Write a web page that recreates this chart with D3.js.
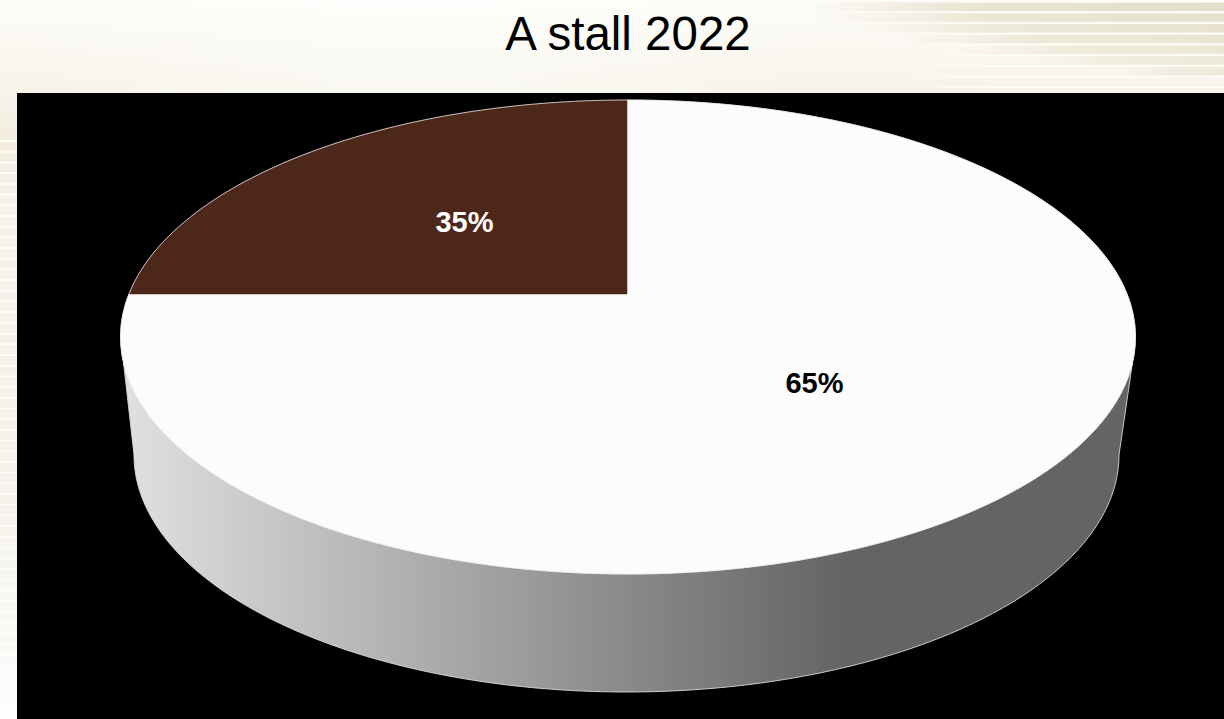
<!DOCTYPE html>
<html>
<head>
<meta charset="utf-8">
<script src="https://cdn.jsdelivr.net/npm/d3@7"></script>
<style>html,body{margin:0;padding:0;background:#fff;overflow:hidden}svg{display:block}text{font-family:"Liberation Sans",Arial,sans-serif}</style>
</head>
<body>
<svg id="c" width="1224" height="719"></svg>
<script>
const chartTitle = "A stall 2022";
const categories = ["Yes", "No"];
const shares = [35, 65];
const shareLabels = ["35%", "65%"];
const sliceColors = ["#4e271b", "#fcfcfc"];
const labelColors = ["#ffffff", "#000000"];

const W = 1224, H = 719;
const svg = d3.select("#c");
const defs = svg.append("defs");

// ---------- slide background ----------
const bgGrad = defs.append("linearGradient").attr("id","bg").attr("x1",0).attr("y1",0).attr("x2",0).attr("y2",1);
[[0,"#fdfcf8"],[0.13,"#f7f3e9"],[0.2,"#f3ecdf"],[0.3,"#f7f1ea"],[0.7,"#f4f2ea"],[1,"#fefdfd"]].forEach(s=>
  bgGrad.append("stop").attr("offset",s[0]).attr("stop-color",s[1]));
svg.append("rect").attr("width",W).attr("height",H).attr("fill","url(#bg)");
const glow = defs.append("radialGradient").attr("id","glow").attr("gradientUnits","userSpaceOnUse")
  .attr("cx",420).attr("cy",-10).attr("r",420);
glow.append("stop").attr("offset",0).attr("stop-color","#ffffff").attr("stop-opacity",0.5);
glow.append("stop").attr("offset",1).attr("stop-color","#ffffff").attr("stop-opacity",0);
svg.append("rect").attr("width",W).attr("height",93).attr("fill","url(#glow)");

// top-right band: soft khaki fill that fades out toward the lower left
const period = 10.7;
d3.range(0,9).forEach(i=>{
  const y0 = 2 + i*period;
  const id = "band"+i;
  const start = 800 + i*i*7 + i*12;
  const strength = 1 - i*0.09;
  const g = defs.append("linearGradient").attr("id",id).attr("gradientUnits","userSpaceOnUse")
    .attr("x1",start).attr("x2",1224).attr("y1",0).attr("y2",0);
  g.append("stop").attr("offset",0).attr("stop-color","#e3dec8").attr("stop-opacity",0);
  g.append("stop").attr("offset",0.4).attr("stop-color","#e3dec8").attr("stop-opacity",strength*0.75);
  g.append("stop").attr("offset",1).attr("stop-color","#e3dec8").attr("stop-opacity",strength);
  svg.append("rect").attr("x",start).attr("y",y0).attr("width",1224-start).attr("height",period-1.6).attr("fill","url(#"+id+")");
});
const lineFade = defs.append("linearGradient").attr("id","lineFade").attr("gradientUnits","userSpaceOnUse")
  .attr("x1",860).attr("x2",1000).attr("y1",0).attr("y2",0);
lineFade.append("stop").attr("offset",0).attr("stop-color","#fffdf8").attr("stop-opacity",0);
lineFade.append("stop").attr("offset",1).attr("stop-color","#fffdf8").attr("stop-opacity",1);
d3.range(0,9).forEach(i=>{
  svg.append("rect").attr("x",860).attr("y",1+i*period).attr("width",364).attr("height",1.6).attr("fill","url(#lineFade)");
});
// left strip stripes
d3.range(0,54).forEach(i=>{
  const y = 140 + i*10.7;
  svg.append("rect").attr("x",0).attr("y",y).attr("width",17).attr("height",2)
    .attr("fill","#fffdf8").attr("opacity",0.9);
});

// black chart area
svg.append("rect").attr("x",17).attr("y",93).attr("width",W-17).attr("height",H-93).attr("fill","#000");

// title
svg.append("text").attr("x",628).attr("y",50).attr("text-anchor","middle")
  .attr("font-size",47.5).attr("fill","#000").text(chartTitle);

// ---------- pie geometry ----------
const xTop = d3.scaleLinear().domain([-1,1]).range([120.5,1135.5]);
const yTop = d3.scaleLinear().domain([-1,1]).range([100,574]);
const xBase = d3.scaleLinear().domain([-1,1]).range([134,1119]);
const yBase = d3.scaleLinear().domain([-1,1]).range([218,692]);
const line = d3.line();

// side wall
const sideGrad = defs.append("linearGradient").attr("id","side").attr("gradientUnits","userSpaceOnUse")
  .attr("x1",125).attr("x2",845).attr("y1",0).attr("y2",0);
sideGrad.append("stop").attr("offset",0).attr("stop-color","#e0e0e0");
sideGrad.append("stop").attr("offset",1).attr("stop-color","#646464");

const phi = d3.range(0,181).map(d=>d*Math.PI/180);
const baseArc = phi.map(p=>[xBase(Math.cos(p)),yBase(Math.sin(p))]);
const topLeftEnd = Math.asin(0.11), tl=[xTop(-Math.cos(topLeftEnd)),yTop(Math.sin(topLeftEnd))];
const tr=[xTop(Math.cos(topLeftEnd)),yTop(Math.sin(topLeftEnd))];
svg.append("path").attr("d",line([tr,...baseArc,tl])+"Z")
  .attr("fill","url(#side)").attr("stroke","#d8d8d8").attr("stroke-width",0.9);

// top face: pie angles through the chart's foreshortening, rays cast from the
// projected pie centre to the rim of the ellipse
const pie = d3.pie().value(d=>d).sort(null);
const arcs = pie(shares);
const view = d3.scaleLinear().domain([0,2*Math.PI*shares[0]/100,2*Math.PI]).range([0,-Math.PI/2,-2*Math.PI]);
const apex = {x:627, y:294};
const cx=(xTop(-1)+xTop(1))/2, cy=(yTop(-1)+yTop(1))/2, rx=(xTop(1)-xTop(-1))/2, ry=(yTop(1)-yTop(-1))/2;
function rim(t){
  const dx=Math.sin(t), dy=-Math.cos(t), px=apex.x-cx, py=apex.y-cy;
  const a=dx*dx/(rx*rx)+dy*dy/(ry*ry), b=2*(px*dx/(rx*rx)+py*dy/(ry*ry)), c=px*px/(rx*rx)+py*py/(ry*ry)-1;
  const s=(-b+Math.sqrt(b*b-4*a*c))/(2*a);
  return [apex.x+s*dx, apex.y+s*dy];
}
const order = [1,0];
order.forEach(i=>{
  const d = arcs[i];
  const n = 720;
  const pts = d3.range(0,n+1).map(k=>rim(view(d.startAngle+(d.endAngle-d.startAngle)*k/n)));
  svg.append("path").attr("d",line([[apex.x,apex.y],...pts])+"Z")
    .attr("fill",sliceColors[i]).attr("stroke",sliceColors[i]).attr("stroke-width",0.5);
});
// rim highlight
svg.append("path").attr("d",line(d3.range(0,361).map(k=>rim(view(2*Math.PI*k/360))))+"Z")
  .attr("fill","none").attr("stroke","#f0f0f0").attr("stroke-width",0.8);

// labels
const labelPos = [[464.5,231.5],[814.5,393]];
shareLabels.forEach((t,i)=>{
  svg.append("text").attr("x",labelPos[i][0]).attr("y",labelPos[i][1]).attr("text-anchor","middle")
    .attr("font-size",29).attr("font-weight","bold").attr("fill",labelColors[i]).text(t);
});
</script>
</body>
</html>
